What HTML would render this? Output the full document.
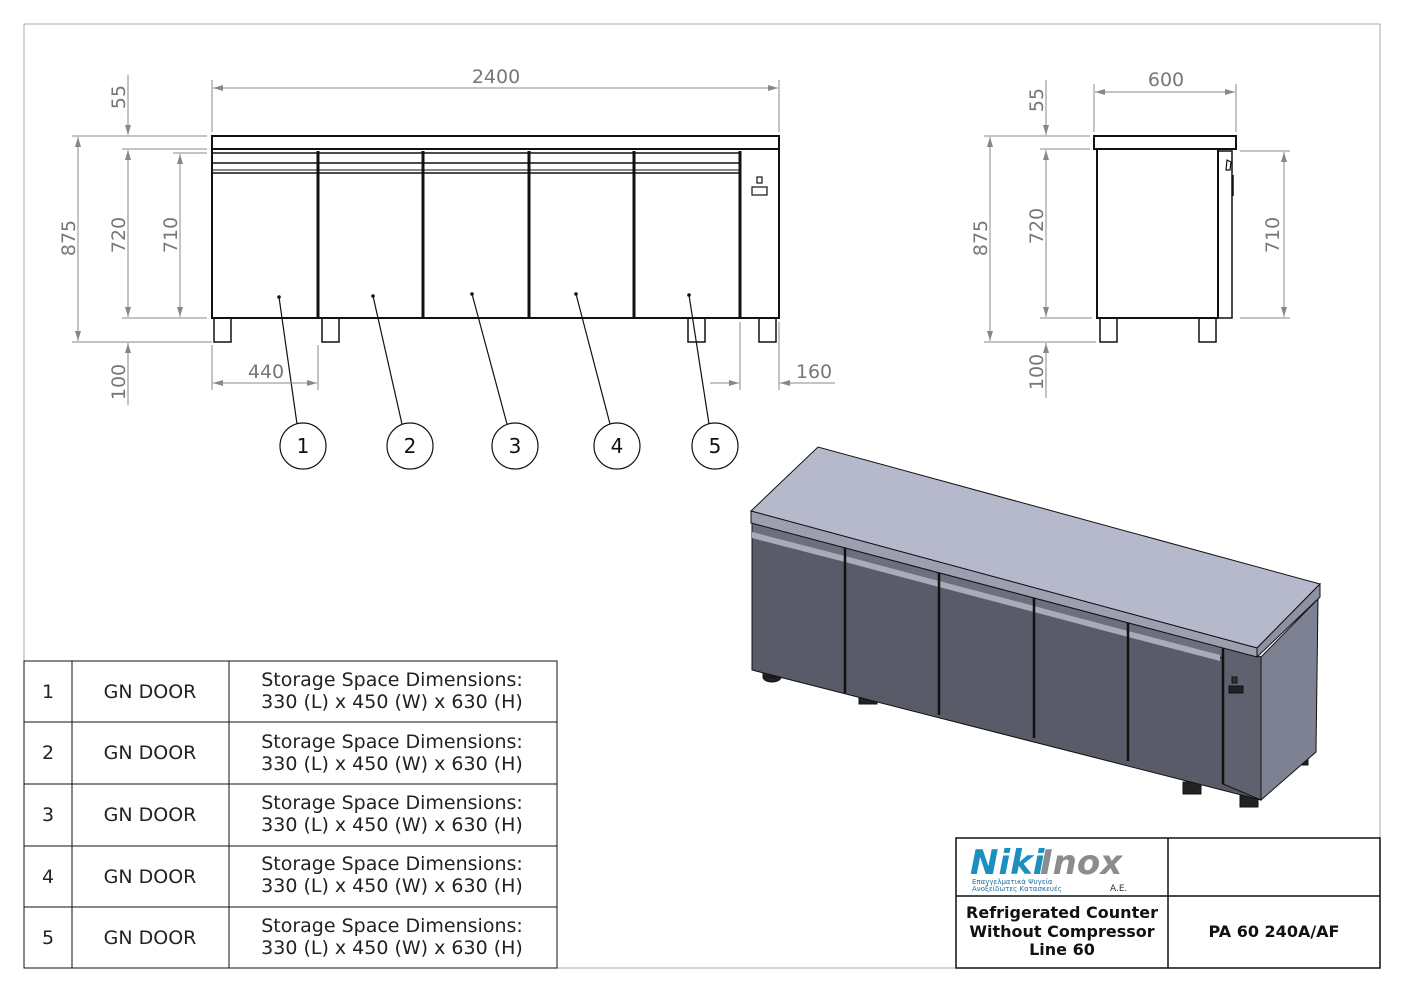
<!DOCTYPE html>
<html><head><meta charset="utf-8"><style>
html,body{margin:0;padding:0;background:#fff}
svg{display:block}
text{font-family:"DejaVu Sans","Liberation Sans",sans-serif}
</style></head><body>
<svg width="1403" height="992" viewBox="0 0 1403 992" xmlns="http://www.w3.org/2000/svg">
<defs>
<marker id="a" viewBox="0 0 10 6" refX="10" refY="3" markerWidth="10" markerHeight="6" orient="auto-start-reverse" markerUnits="userSpaceOnUse"><path d="M0,0L10,3L0,6z" fill="#888"/></marker>
</defs>
<rect x="24" y="24" width="1356" height="944" fill="none" stroke="#aaa" stroke-width="1"/>

<!-- FRONT VIEW -->
<g stroke="#111" fill="none">
<rect x="212" y="136" width="567" height="13" stroke-width="2"/>
<rect x="212" y="149" width="567" height="169" stroke-width="2"/>
<line x1="212" y1="153" x2="740" y2="153" stroke-width="1.5"/>
<line x1="212" y1="163" x2="740" y2="163" stroke-width="1.5"/>
<line x1="212" y1="170" x2="740" y2="170" stroke-width="1"/>
<line x1="212" y1="173" x2="740" y2="173" stroke-width="1.5"/>
<g stroke-width="3"><line x1="318" y1="151" x2="318" y2="318"/><line x1="423" y1="151" x2="423" y2="318"/><line x1="529" y1="151" x2="529" y2="318"/><line x1="634" y1="151" x2="634" y2="318"/><line x1="740" y1="151" x2="740" y2="318"/></g>
<rect x="757" y="177" width="5" height="6" stroke-width="1.2"/>
<rect x="752" y="187" width="15" height="8" stroke-width="1.2"/>
<g stroke-width="1.5"><rect x="214" y="318" width="17" height="24"/><rect x="322" y="318" width="17" height="24"/><rect x="688" y="318" width="17" height="24"/><rect x="759" y="318" width="17" height="24"/></g>
<g stroke-width="1.2">
<line x1="279" y1="297" x2="297" y2="424"/><line x1="373" y1="296" x2="402" y2="424"/><line x1="472" y1="294" x2="507" y2="424"/><line x1="576" y1="294" x2="610" y2="424"/><line x1="689" y1="295" x2="709" y2="424"/>
<circle cx="303" cy="446" r="23"/><circle cx="410" cy="446" r="23"/><circle cx="515" cy="446" r="23"/><circle cx="617" cy="446" r="23"/><circle cx="715" cy="446" r="23"/>
</g>
</g>
<g fill="#111"><circle cx="279" cy="297" r="1.8"/><circle cx="373" cy="296" r="1.8"/><circle cx="472" cy="294" r="1.8"/><circle cx="576" cy="294" r="1.8"/><circle cx="689" cy="295" r="1.8"/></g>
<g font-size="20" text-anchor="middle" fill="#111"><text x="303" y="453">1</text><text x="410" y="453">2</text><text x="515" y="453">3</text><text x="617" y="453">4</text><text x="715" y="453">5</text></g>

<g stroke="#888" stroke-width="1" fill="none">
<line x1="212" y1="80" x2="212" y2="132"/><line x1="779" y1="80" x2="779" y2="132"/>
<line x1="213" y1="88" x2="778" y2="88" marker-start="url(#a)" marker-end="url(#a)"/>
<line x1="72" y1="136" x2="207" y2="136"/><line x1="122" y1="149" x2="207" y2="149"/>
<line x1="128" y1="75" x2="128" y2="135" marker-end="url(#a)"/>
<line x1="78" y1="137" x2="78" y2="341" marker-start="url(#a)" marker-end="url(#a)"/>
<line x1="128" y1="150" x2="128" y2="317" marker-start="url(#a)" marker-end="url(#a)"/>
<line x1="173" y1="153" x2="207" y2="153"/>
<line x1="180" y1="154" x2="180" y2="317" marker-start="url(#a)" marker-end="url(#a)"/>
<line x1="122" y1="318" x2="207" y2="318"/><line x1="72" y1="342" x2="212" y2="342"/>
<line x1="128" y1="405" x2="128" y2="343" marker-end="url(#a)"/>
<line x1="212" y1="345" x2="212" y2="390"/><line x1="318" y1="345" x2="318" y2="390"/>
<line x1="213" y1="383" x2="317" y2="383" marker-start="url(#a)" marker-end="url(#a)"/>
<line x1="740" y1="322" x2="740" y2="390"/><line x1="779" y1="322" x2="779" y2="390"/>
<line x1="710" y1="383" x2="739" y2="383" marker-end="url(#a)"/>
<line x1="835" y1="383" x2="780" y2="383" marker-end="url(#a)"/>
</g>
<g font-size="19" fill="#777" text-anchor="middle">
<text x="496" y="83">2400</text><text x="266" y="378">440</text><text x="814" y="378">160</text>
<text transform="translate(125,97) rotate(-90)">55</text>
<text transform="translate(75,238) rotate(-90)">875</text>
<text transform="translate(125,235) rotate(-90)">720</text>
<text transform="translate(177,235) rotate(-90)">710</text>
<text transform="translate(125,382) rotate(-90)">100</text>
</g>

<!-- SIDE VIEW -->
<g stroke="#111" fill="none" stroke-width="2">
<rect x="1094" y="136" width="142" height="13"/>
<rect x="1097" y="149" width="121" height="169"/>
<rect x="1218" y="151" width="14" height="167" stroke-width="1.5"/>
<rect x="1100" y="318" width="17" height="24" stroke-width="1.5"/>
<rect x="1199" y="318" width="17" height="24" stroke-width="1.5"/>
<path d="M1227,160 L1231,162 L1230,170 L1226,170z" stroke-width="1.2"/>
<line x1="1233" y1="175" x2="1233" y2="196" stroke-width="1.5"/>
</g>
<g stroke="#888" stroke-width="1" fill="none">
<line x1="1094" y1="84" x2="1094" y2="132"/><line x1="1236" y1="84" x2="1236" y2="132"/>
<line x1="1095" y1="92" x2="1235" y2="92" marker-start="url(#a)" marker-end="url(#a)"/>
<line x1="984" y1="136" x2="1090" y2="136"/><line x1="1040" y1="149" x2="1090" y2="149"/>
<line x1="1046" y1="80" x2="1046" y2="135" marker-end="url(#a)"/>
<line x1="990" y1="137" x2="990" y2="341" marker-start="url(#a)" marker-end="url(#a)"/>
<line x1="1046" y1="150" x2="1046" y2="317" marker-start="url(#a)" marker-end="url(#a)"/>
<line x1="1040" y1="318" x2="1092" y2="318"/><line x1="984" y1="342" x2="1096" y2="342"/>
<line x1="1046" y1="398" x2="1046" y2="343" marker-end="url(#a)"/>
<line x1="1240" y1="151" x2="1290" y2="151"/><line x1="1240" y1="318" x2="1290" y2="318"/>
<line x1="1284" y1="152" x2="1284" y2="317" marker-start="url(#a)" marker-end="url(#a)"/>
</g>
<g font-size="19" fill="#777" text-anchor="middle">
<text x="1166" y="86">600</text>
<text transform="translate(1043,100) rotate(-90)">55</text>
<text transform="translate(987,238) rotate(-90)">875</text>
<text transform="translate(1043,226) rotate(-90)">720</text>
<text transform="translate(1279,235) rotate(-90)">710</text>
<text transform="translate(1043,372) rotate(-90)">100</text>
</g>

<!-- ISO VIEW -->
<g stroke="#111" stroke-width="1">
<ellipse cx="772" cy="677" rx="9" ry="5" fill="#222"/><rect x="763" y="668" width="18" height="9" fill="#222"/>
<rect x="859" y="694" width="18" height="10" fill="#222"/>
<rect x="1183" y="782" width="18" height="12" fill="#222"/>
<rect x="1240" y="795" width="18" height="12" fill="#222"/>
<rect x="1294" y="745" width="14" height="20" fill="#222"/>
<polygon points="1261,657 1318,599 1316,752 1261,800" fill="#7e8192"/>
<polygon points="752,523 1261,657 1261,800 752,670" fill="#595c68"/>
<polygon points="1223,647 1261,657 1261,800 1223,784" fill="#5f626e"/>
<polygon points="752,523 1223,647 1223,658 752,535" fill="#6c6f7c"/>
<polygon points="752,532 845,556 845,562 752,538" fill="#a8abb9" stroke="none"/>
<polygon points="845,556 939,581 939,587 845,562" fill="#a8abb9" stroke="none"/>
<polygon points="939,581 1034,606 1034,612 939,587" fill="#a8abb9" stroke="none"/>
<polygon points="1034,606 1128,631 1128,637 1034,612" fill="#a8abb9" stroke="none"/>
<polygon points="1128,631 1220,655 1220,661 1128,637" fill="#a8abb9" stroke="none"/>
<g stroke-width="2.5"><line x1="845" y1="547" x2="845" y2="693"/><line x1="939" y1="572" x2="939" y2="715"/><line x1="1034" y1="597" x2="1034" y2="738"/><line x1="1128" y1="622" x2="1128" y2="761"/><line x1="1223" y1="647" x2="1223" y2="784"/></g>
<polygon points="751,511 818,447 1320,584 1257,648" fill="#b6b9cc"/>
<polygon points="751,511 1257,648 1257,657 751,523" fill="#9c9fb0"/>
<polygon points="1257,648 1320,584 1320,597 1257,657" fill="#8e91a2"/>
<rect x="1232" y="677" width="5" height="6" fill="#333"/>
<rect x="1229" y="686" width="14" height="7" fill="#222"/>
</g>

<!-- TABLE -->
<g stroke="#111" stroke-width="1" fill="none">
<rect x="24" y="661" width="533" height="307"/>
<line x1="24" y1="722" x2="557" y2="722"/><line x1="24" y1="784" x2="557" y2="784"/><line x1="24" y1="846" x2="557" y2="846"/><line x1="24" y1="907" x2="557" y2="907"/>
<line x1="72" y1="661" x2="72" y2="968"/><line x1="229" y1="661" x2="229" y2="968"/>
</g>
<g font-size="19" fill="#222">
<g text-anchor="middle">
<text x="48" y="698">1</text><text x="48" y="759">2</text><text x="48" y="821">3</text><text x="48" y="883">4</text><text x="48" y="944">5</text>
<text x="150" y="698">GN DOOR</text><text x="150" y="759">GN DOOR</text><text x="150" y="821">GN DOOR</text><text x="150" y="883">GN DOOR</text><text x="150" y="944">GN DOOR</text>
<text x="392" y="686">Storage Space Dimensions:</text><text x="392" y="708">330 (L) x 450 (W) x 630 (H)</text>
<text x="392" y="748">Storage Space Dimensions:</text><text x="392" y="770">330 (L) x 450 (W) x 630 (H)</text>
<text x="392" y="809">Storage Space Dimensions:</text><text x="392" y="831">330 (L) x 450 (W) x 630 (H)</text>
<text x="392" y="870">Storage Space Dimensions:</text><text x="392" y="892">330 (L) x 450 (W) x 630 (H)</text>
<text x="392" y="932">Storage Space Dimensions:</text><text x="392" y="954">330 (L) x 450 (W) x 630 (H)</text>
</g></g>

<!-- TITLE BLOCK -->
<g stroke="#111" stroke-width="1.5" fill="none">
<rect x="956" y="838" width="424" height="130"/>
<line x1="956" y1="896" x2="1380" y2="896"/><line x1="1168" y1="838" x2="1168" y2="968"/>
</g>
<text x="970" y="874" font-size="34" font-style="italic" font-weight="bold" fill="#1a8fc0" font-family="Liberation Sans,sans-serif">Niki</text>
<text x="1040" y="874" font-size="34" font-style="italic" font-weight="bold" fill="#8a8c90" font-family="Liberation Sans,sans-serif">Inox</text>
<text x="972" y="884" font-size="7" fill="#1a6fa0">Επαγγελματικά Ψυγεία</text>
<text x="972" y="891" font-size="7" fill="#1a6fa0">Ανοξείδωτες Κατασκευές</text>
<text x="1110" y="891" font-size="9" fill="#333">A.E.</text>
<g font-size="16" font-weight="bold" fill="#111" text-anchor="middle" font-family="Liberation Sans,sans-serif">
<text x="1062" y="918">Refrigerated Counter</text><text x="1062" y="937">Without Compressor</text><text x="1062" y="955">Line 60</text>
<text x="1274" y="937">PA 60 240A/AF</text>
</g>
</svg>
</body></html>
